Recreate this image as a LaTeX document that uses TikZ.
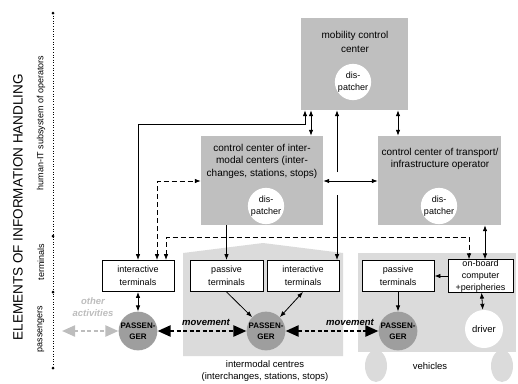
\documentclass[tikz,border=0pt]{standalone}
\usepackage{fontspec}
\setmainfont{Liberation Sans}
\usetikzlibrary{arrows.meta,positioning}
\definecolor{ctrgray}{gray}{0.75}
\definecolor{bggray}{gray}{0.86}
\definecolor{pasgray}{gray}{0.62}
\definecolor{actgray}{gray}{0.74}
\begin{document}
\begin{tikzpicture}[x=1pt, y=-1pt,
		ctr/.style = {rectangle, fill=ctrgray, inner sep=0},
		ct/.style = {align=center, inner sep=0, font=\fontsize{9.5}{12.5}\selectfont},
		cct/.style = {ct, font=\fontsize{10}{12.5}\selectfont},
		disp/.style = {circle, fill=white, minimum size=36, inner sep=0, align=center, font=\fontsize{9}{12}\selectfont},
		term/.style = {rectangle, draw, fill=white, line width=0.8pt, minimum height=31, inner sep=0, align=center, font=\fontsize{9}{12.5}\selectfont},
		pas/.style = {circle, fill=pasgray, minimum size=38, inner sep=0, align=center, font=\fontsize{8}{11}\selectfont\bfseries},
		lbl/.style = {rotate=90, inner sep=0, font=\fontsize{9}{11}\selectfont},
		r/.style = {<->, >={Latex[length=6pt,width=4.5pt]}, line width=0.8pt},
		rs/.style = {->, >={Latex[length=6pt,width=4.5pt]}, line width=0.8pt},
		da/.style = {r, dash pattern=on 5pt off 3pt},
		mv/.style = {<->, >={Triangle[length=13pt,width=11pt]}, line width=2.2pt, dash pattern=on 4pt off 2.5pt},
		oa/.style = {mv, draw=actgray}
		]
		\useasboundingbox (0,0) rectangle (518,383);
		
		%Backgrounds
		\fill[bggray] (183,253) -- (263,243) -- (343,253) -- (343,356) -- (183,356) -- cycle;
		\fill[bggray] (358,253) rectangle (516,352);
		\fill[bggray] (376,366) ellipse [x radius=11, y radius=16];
		\fill[bggray] (502,366) ellipse [x radius=11, y radius=16];
		
		%Axis
		\draw[dotted, line width=0.6pt] (53,13) -- (53,368);
		\foreach \yy in {13, 236, 292, 368}
			\fill (53,\yy) circle (1.5);
		\node[lbl, font=\fontsize{13.5}{15}\selectfont] (elem) at (18,207) {ELEMENTS OF INFORMATION HANDLING};
		\node[lbl] (hit) at (41,123) {human-IT subsystem of operators};
		\node[lbl] (tl) at (41,262) {terminals};
		\node[lbl] (pl) at (41,329) {passengers};
		
		%Nodes
		\node[ctr, minimum width=107, minimum height=92] (mcc) at (354.5,64) {};
		\node[ctr, minimum width=122, minimum height=89] (icc) at (262,180.5) {};
		\node[ctr, minimum width=123, minimum height=89] (tcc) at (439.5,180.5) {};
		\node[cct, font=\fontsize{10}{14}\selectfont] (mcct) at (355,42) {mobility control\\center};
		\node[cct] (icct) at (262,161) {control center of inter-\\modal centers (inter-\\changes, stations, stops)};
		\node[cct] (tcct) at (440,159) {control center of transport/\\infrastructure operator};
		\node[disp] (d1) at (353,82) {dis-\\patcher};
		\node[disp] (d2) at (266,206) {dis-\\patcher};
		\node[disp] (d3) at (439,206) {dis-\\patcher};
		
		\node[term, minimum width=72] (it1) at (138,276) {interactive\\terminals};
		\node[term, minimum width=73] (pt2) at (226.5,276) {passive\\terminals};
		\node[term, minimum width=72] (it2) at (303,276) {interactive\\terminals};
		\node[term, minimum width=72] (pt3) at (398,276) {passive\\terminals};
		\node[term, minimum width=65, font=\fontsize{9}{12}\selectfont] (obc) at (480.5,276) {on-board\\computer\\+peripheries};
		
		\node[pas] (p1) at (138,331) {PASSEN-\\GER};
		\node[pas] (p2) at (266,331) {PASSEN-\\GER};
		\node[pas] (p3) at (398,331) {PASSEN-\\GER};
		\node[disp, minimum size=38, font=\fontsize{9.5}{12}\selectfont] (drv) at (484,329) {driver};
		
		\node[ct] (imc) at (265,371) {intermodal centres\\(interchanges, stations, stops)};
		\node[ct] (veh) at (430,366) {vehicles};
		\node[ct, font=\fontsize{9.5}{12.5}\selectfont\bfseries\itshape] (mv1) at (206,322) {movement};
		\node[ct, font=\fontsize{9.5}{12.5}\selectfont\bfseries\itshape] (mv2) at (350,322) {movement};
		\node[ct, text=actgray, font=\fontsize{9.5}{12.5}\selectfont\bfseries\itshape] (oat) at (93,307) {other\\activities};
		\coordinate (oe) at (62,331);
		\coordinate (gt) at (337,172);
		\coordinate (gb) at (337,195);
		\coordinate (j1) at (305,124);
		\coordinate (j2) at (166,237);
		
		%Lines
		\draw[r]	(it1.north)	|-	(j1)	--	(j1 |- mcc.south);
		\draw[r]	(icc.north -| 311,0)	--	(mcc.south -| 311,0);
		\draw[rs]	(gt)	--	(gt |- mcc.south);
		\draw[rs]	(gb)	--	(gb |- it2.north);
		\draw[r]	(tcc.north -| 398,0)	--	(mcc.south -| 398,0);
		\draw[r]	(icc.east |- 0,181)	--	(tcc.west |- 0,181);
		\draw[r]	(tcc.south -| 485,0)	--	(obc.north -| 485,0);
		\draw[da]	(it1.north -| 157,0)	|-	(icc.west |- 0,181);
		\draw[da]	(it1.north -| j2)	--	(j2)	-|	(obc.north -| 469,0);
		\draw[rs]	(icc.south -| pt2.north)	--	(pt2.north);
		\draw[r]	(it1)	--	(p1);
		\draw[rs]	(pt2.south)	--	(p2.north west);
		\draw[r]	(it2.south)	--	(p2.north east);
		\draw[rs]	(pt3)	--	(p3);
		\draw[rs]	(obc)	--	(pt3);
		\draw[r]	(obc)	--	(drv);
		\draw[mv]	(p1)	--	(p2);
		\draw[mv]	(p2)	--	(p3);
		\draw[oa]	(oe)	--	(p1);
	\end{tikzpicture}
\end{document}
